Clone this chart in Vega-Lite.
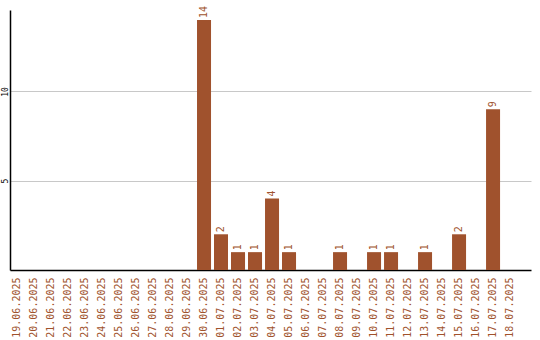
{
  "$schema": "https://vega.github.io/schema/vega-lite/v6.json",
  "autosize": {"type": "none"},
  "padding": {"left": 10, "top": 10, "right": 9, "bottom": 70},
  "width": 521,
  "height": 260,
  "background": "white",
  "config": {"view": {"stroke": null}},
  "data": {"values": [
    {"date": "19.06.2025", "v": 0},
    {"date": "20.06.2025", "v": 0},
    {"date": "21.06.2025", "v": 0},
    {"date": "22.06.2025", "v": 0},
    {"date": "23.06.2025", "v": 0},
    {"date": "24.06.2025", "v": 0},
    {"date": "25.06.2025", "v": 0},
    {"date": "26.06.2025", "v": 0},
    {"date": "27.06.2025", "v": 0},
    {"date": "28.06.2025", "v": 0},
    {"date": "29.06.2025", "v": 0},
    {"date": "30.06.2025", "v": 14},
    {"date": "01.07.2025", "v": 2},
    {"date": "02.07.2025", "v": 1},
    {"date": "03.07.2025", "v": 1},
    {"date": "04.07.2025", "v": 4},
    {"date": "05.07.2025", "v": 1},
    {"date": "06.07.2025", "v": 0},
    {"date": "07.07.2025", "v": 0},
    {"date": "08.07.2025", "v": 1},
    {"date": "09.07.2025", "v": 0},
    {"date": "10.07.2025", "v": 1},
    {"date": "11.07.2025", "v": 1},
    {"date": "12.07.2025", "v": 0},
    {"date": "13.07.2025", "v": 1},
    {"date": "14.07.2025", "v": 0},
    {"date": "15.07.2025", "v": 2},
    {"date": "16.07.2025", "v": 0},
    {"date": "17.07.2025", "v": 9},
    {"date": "18.07.2025", "v": 0}
  ]},
  "encoding": {
    "x": {
      "field": "date", "type": "ordinal", "sort": null,
      "scale": {"paddingInner": 0.176, "paddingOuter": 0.41, "align": 0},
      "axis": {
        "title": null, "labelAngle": -90, "labelColor": "#a0522d",
        "labelFont": "DejaVu Sans Mono", "labelFontSize": 10,
        "ticks": false, "labelPadding": 7,
        "domainColor": "black", "domainWidth": 1.5, "grid": false
      }
    },
    "y": {
      "field": "v", "type": "quantitative",
      "scale": {"domain": [0, 14.56], "nice": false},
      "axis": {
        "title": null, "values": [5, 10], "labelAngle": -90,
        "labelFont": "DejaVu Sans Mono", "labelFontSize": 8, "labelColor": "black",
        "labelAlign": "center", "labelBaseline": "middle",
        "ticks": false, "labelPadding": 5,
        "domainColor": "black", "domainWidth": 1.5,
        "grid": true, "gridColor": "#c8c8c8", "gridWidth": 1
      }
    }
  },
  "layer": [
    {"mark": {"type": "bar", "color": "#a0522d"}},
    {
      "transform": [{"filter": "datum.v > 0"}],
      "mark": {
        "type": "text", "angle": 270, "align": "left", "baseline": "middle",
        "dx": 2, "color": "#a0522d", "font": "DejaVu Sans Mono", "fontSize": 10
      },
      "encoding": {"text": {"field": "v", "type": "quantitative"}}
    }
  ]
}
